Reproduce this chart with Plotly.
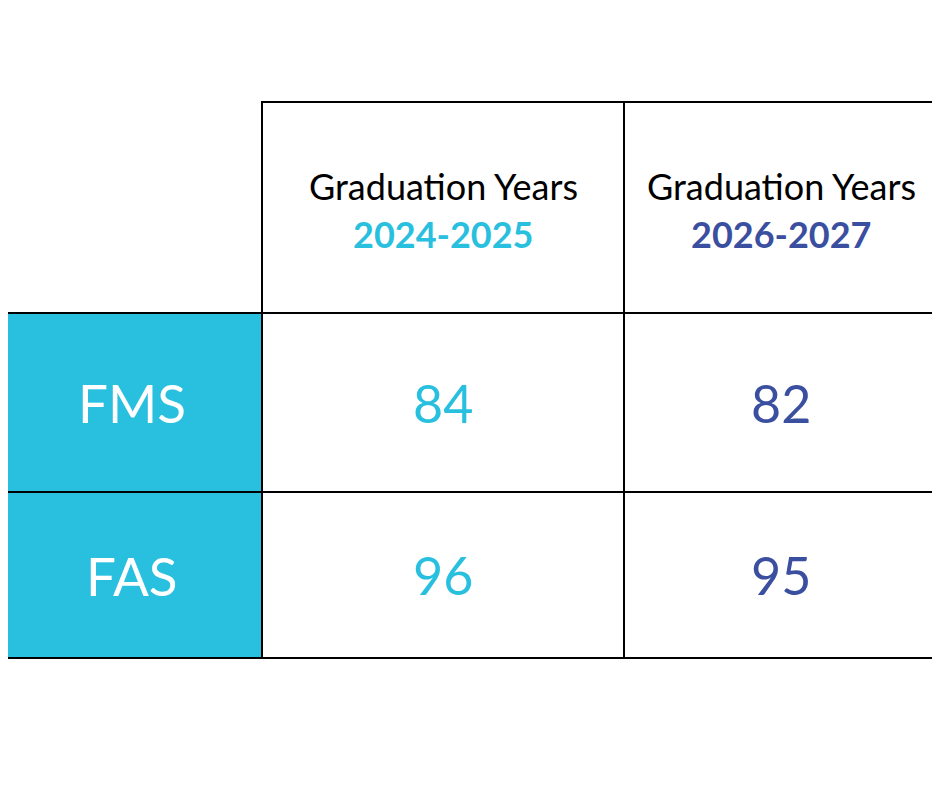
import plotly.graph_objects as go

# data
row_labels = ["FMS", "FAS"]
col_titles = ["Graduation Years", "Graduation Years"]
col_years = ["2024-2025", "2026-2027"]
values = [[84, 82], [96, 95]]

CYAN = "#29C0E0"
NAVY = "#3B4FA0"
col_colors = [CYAN, NAVY]

# layout grid (pixel units, page offset of 8px compensated)
OFF = 8
x_edges = [e - OFF for e in [2, 262, 624, 938]]
y_edges = [e - OFF for e in [102, 313, 492, 658]]

fig = go.Figure()
shapes = []
ann = []

# header cells
for j in range(len(col_years)):
    x0, x1 = x_edges[j + 1], x_edges[j + 2]
    y0, y1 = y_edges[0], y_edges[1]
    shapes.append(dict(type="rect", x0=x0, x1=x1, y0=y0, y1=y1,
                       line=dict(color="black", width=2), fillcolor="white"))
    xc = (x0 + x1) / 2
    ann.append(dict(x=xc, y=186 - OFF, text=col_titles[j], showarrow=False,
                    font=dict(family="Lato", size=36, color="black")))
    ann.append(dict(x=xc, y=234 - OFF, text="<b>" + col_years[j] + "</b>", showarrow=False,
                    font=dict(family="Lato", size=36, color=col_colors[j])))

# body rows
for i, lab in enumerate(row_labels):
    y0, y1 = y_edges[i + 1], y_edges[i + 2]
    yc = (y0 + y1) / 2
    shapes.append(dict(type="rect", x0=x_edges[0], x1=x_edges[1], y0=y0, y1=y1,
                       line=dict(color="black", width=2), fillcolor=CYAN))
    ann.append(dict(x=(x_edges[0] + x_edges[1]) / 2, y=yc, text=lab, showarrow=False,
                    font=dict(family="Lato", size=53, color="white")))
    for j in range(len(col_years)):
        x0, x1 = x_edges[j + 1], x_edges[j + 2]
        shapes.append(dict(type="rect", x0=x0, x1=x1, y0=y0, y1=y1,
                           line=dict(color="black", width=2), fillcolor="white"))
        ann.append(dict(x=(x0 + x1) / 2, y=yc, text=str(values[i][j]), showarrow=False,
                        font=dict(family="Lato", size=52, color=col_colors[j])))

fig.update_layout(
    width=940, height=788, margin=dict(l=0, r=0, t=0, b=0),
    paper_bgcolor="white", plot_bgcolor="white",
    xaxis=dict(range=[0, 940], visible=False, fixedrange=True),
    yaxis=dict(range=[788, 0], visible=False, fixedrange=True),
    shapes=shapes, annotations=ann, showlegend=False,
)
fig.write_html("out.html")
